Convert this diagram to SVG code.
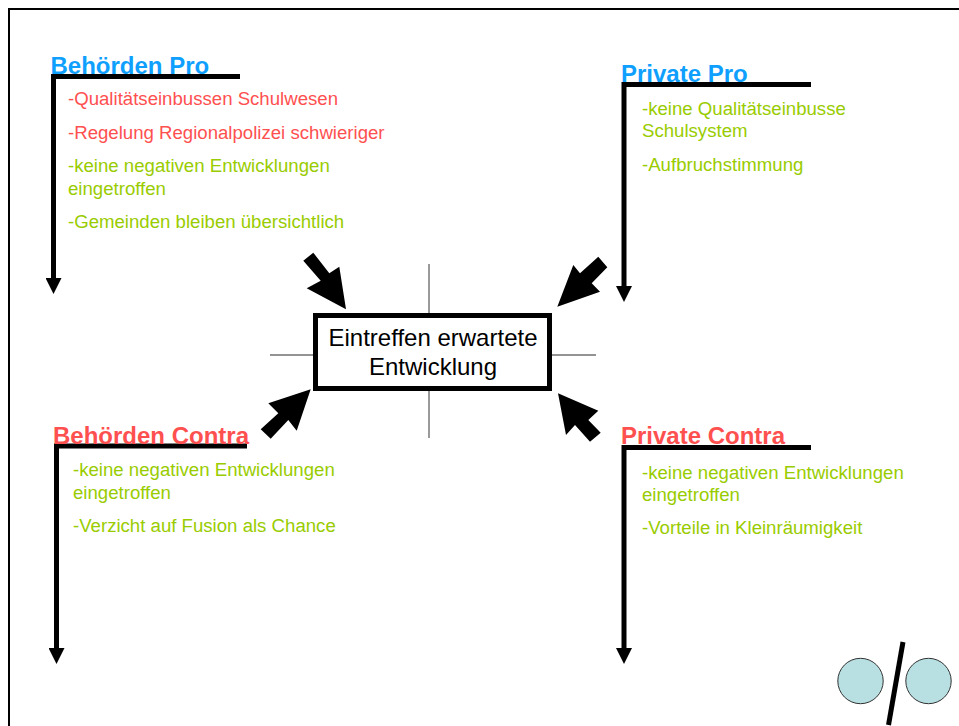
<svg xmlns="http://www.w3.org/2000/svg" width="959" height="726" viewBox="0 0 959 726">
<style>
text{font-family:"Liberation Sans",Arial,sans-serif}
.h{font-size:24px;font-weight:bold}
.b{font-size:18.62px}
.blue{fill:#0f9fff}.red{fill:#ff5050}.green{fill:#99cc00}
.l{fill:none;stroke:#000;stroke-width:5;stroke-linejoin:miter;marker-end:url(#a)}
.cross{stroke:#707070;stroke-width:1.4;fill:none}
.big{fill:#000}
.c{fill:#b8dfe2;stroke:#333;stroke-width:1}
</style>
<defs>
<marker id="a" markerUnits="userSpaceOnUse" markerWidth="16" markerHeight="16" refX="0" refY="8" orient="auto"><path d="M0 0L16 8L0 16Z" fill="#000"/></marker>
</defs>
<rect width="959" height="726" fill="#fff"/>
<rect x="9" y="9" width="970" height="740" fill="none" stroke="#000" stroke-width="2"/>
<g id="cross">
<path class="cross" d="M429 264V438M270 355H596"/>
</g>
<g id="connectors">
<polyline class="l" points="240,76.5 53.5,76.5 53.5,278"/>
<polyline class="l" points="811,84.5 624,84.5 624,286"/>
<polyline class="l" points="247,446 56.5,446 56.5,648"/>
<polyline class="l" points="811,447.5 624,447.5 624,648"/>
<polygon class="big" points="303.3,260.7 320.7,280.7 306.7,288.3 346,309.3 339.3,266.7 329.3,273.3 313.3,252.7"/>
<polygon class="big" points="598.3,256.7 607.3,267.3 591.7,283.3 600,291.7 557.3,306.7 573.3,265 580,273.3"/>
<polygon class="big" points="310.7,389.3 268.3,403.3 278.3,413.3 260.7,429.3 270.7,438.7 288.3,420 296.7,430.7"/>
<polygon class="big" points="558,393.3 598.3,410.7 588.3,420 600.7,432.7 590,441.7 575,425 566,435"/>
</g>
<g id="center">
<rect x="315.5" y="315.5" width="234" height="73" fill="#fff" stroke="#000" stroke-width="5"/>
<text x="433" y="346" font-size="24" text-anchor="middle">Eintreffen erwartete</text>
<text x="433" y="375" font-size="24" text-anchor="middle">Entwicklung</text>
</g>
<g id="behoerden-pro">
<text class="h blue" x="50.5" y="74">Behörden Pro</text>
<text class="b red" x="68" y="105">-Qualitätseinbussen Schulwesen</text>
<text class="b red" x="68" y="139">-Regelung Regionalpolizei schwieriger</text>
<text class="b green" x="68" y="172">-keine negativen Entwicklungen</text>
<text class="b green" x="68" y="195">eingetroffen</text>
<text class="b green" x="68" y="228">-Gemeinden bleiben übersichtlich</text>
</g>
<g id="private-pro">
<text class="h blue" x="621" y="82">Private Pro</text>
<text class="b green" x="642" y="115">-keine Qualitätseinbusse</text>
<text class="b green" x="642" y="137">Schulsystem</text>
<text class="b green" x="642" y="171">-Aufbruchstimmung</text>
</g>
<g id="behoerden-contra">
<text class="h red" x="53" y="444">Behörden Contra</text>
<text class="b green" x="73" y="476">-keine negativen Entwicklungen</text>
<text class="b green" x="73" y="499">eingetroffen</text>
<text class="b green" x="73" y="532">-Verzicht auf Fusion als Chance</text>
</g>
<g id="private-contra">
<text class="h red" x="621" y="444">Private Contra</text>
<text class="b green" x="642" y="479">-keine negativen Entwicklungen</text>
<text class="b green" x="642" y="501">eingetroffen</text>
<text class="b green" x="642" y="534">-Vorteile in Kleinräumigkeit</text>
</g>
<g id="logo">
<circle class="c" cx="860.5" cy="681" r="22.7"/>
<circle class="c" cx="928.5" cy="681" r="22.7"/>
<line x1="903" y1="642" x2="888.5" y2="725" stroke="#000" stroke-width="5"/>
</g>
</svg>
